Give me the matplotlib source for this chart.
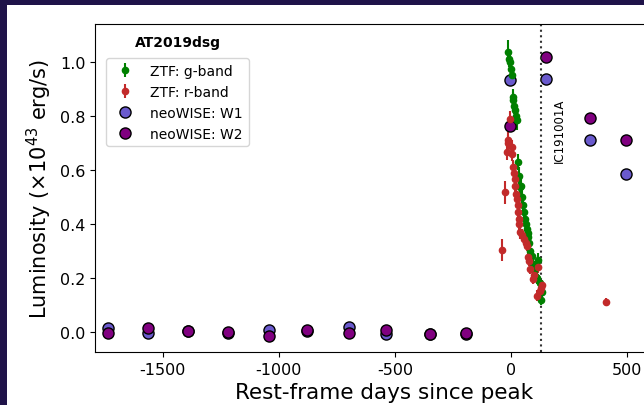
import matplotlib
matplotlib.use("Agg")
import matplotlib.pyplot as plt
from matplotlib.patches import Rectangle

plt.rcParams['axes.unicode_minus'] = False

# ZTF g-band: rest-frame days since peak, luminosity (1e43 erg/s), 1-sigma error
g_days = [-12, -8, -4, -1, 3, 7, 10, 14, 18, 23,
          27, 31, 36, 39, 42, 46, 52, 57, 60, 64,
          68, 72, 75, 79, 82, 88, 93, 98, 103, 108,
          113, 118, 123, 128, 132]
g_lum = [1.036, 1.01, 1.0, 0.974, 0.95, 0.87, 0.857, 0.836, 0.82, 0.80,
         0.783, 0.628, 0.579, 0.536, 0.542, 0.499, 0.47, 0.445, 0.419, 0.40,
         0.381, 0.365, 0.35, 0.33, 0.301, 0.28, 0.25, 0.23, 0.209, 0.205,
         0.199, 0.268, 0.18, 0.12, 0.147]
g_err = [0.045, 0.03, 0.03, 0.03, 0.03, 0.03, 0.03, 0.03, 0.03, 0.03,
         0.035, 0.03, 0.03, 0.03, 0.03, 0.025, 0.025, 0.025, 0.025, 0.025,
         0.025, 0.025, 0.025, 0.025, 0.025, 0.02, 0.02, 0.02, 0.02, 0.02,
         0.02, 0.025, 0.02, 0.02, 0.02]

# ZTF r-band
r_days = [-37, -26, -19, -14, -12, -4, 3, 6, 10, 13,
          17, 19, 22, 27, 29, 31, 33, 36, 39, 47,
          57, 63, 68, 75, 79, 82, 93, 100, 113, 118,
          124, 128, 132, 408]
r_lum = [0.304, 0.517, 0.665, 0.70, 0.709, 0.789, 0.659, 0.684, 0.61, 0.59,
         0.567, 0.542, 0.511, 0.493, 0.47, 0.443, 0.40, 0.42, 0.369, 0.36,
         0.344, 0.33, 0.32, 0.277, 0.264, 0.233, 0.196, 0.21, 0.134, 0.24,
         0.15, 0.162, 0.174, 0.112]
r_err = [0.04, 0.043, 0.03, 0.03, 0.03, 0.03, 0.025, 0.025, 0.025, 0.025,
         0.025, 0.025, 0.025, 0.025, 0.025, 0.025, 0.025, 0.025, 0.025, 0.02,
         0.02, 0.02, 0.02, 0.02, 0.02, 0.02, 0.02, 0.02, 0.02, 0.02,
         0.02, 0.02, 0.02, 0.015]

# neoWISE epochs (W1 and W2 share the same visits)
wise_days = [-1736, -1563, -1391, -1219, -1042, -879, -698, -538, -349, -194,
             -3, 149, 340, 494]
w1_lum = [0.015, -0.004, 0.003, -0.002, 0.008, 0.002, 0.02, -0.008, -0.006, -0.009,
          0.933, 0.937, 0.712, 0.583]
w2_lum = [-0.002, 0.014, 0.004, 0.0, -0.014, 0.006, -0.002, 0.006, -0.006, -0.004,
          0.762, 1.017, 0.793, 0.712]

# neutrino arrival time
nu_day = 129
nu_name = 'IC191001A'

fig = plt.figure(figsize=(6.44, 4.06), dpi=100, facecolor='#1f1349')
fig.patches.append(Rectangle((7 / 644, 0), 1, 400 / 406, transform=fig.transFigure,
                             facecolor='white', edgecolor='none', zorder=-1))

ax = fig.add_axes([95 / 644, 53 / 406, 578.6 / 644, 328 / 406])

ax.errorbar(g_days, g_lum, yerr=g_err, fmt='o', color='green', ms=4.5,
            elinewidth=1.5, capsize=0, label='ZTF: g-band')
ax.errorbar(r_days, r_lum, yerr=r_err, fmt='o', color='#c22a2a', ms=4.5,
            elinewidth=1.5, capsize=0, label='ZTF: r-band')
ax.plot(wise_days, w1_lum, 'o', ls='none', ms=8, mfc='slateblue', mec='k', mew=1,
        label='neoWISE: W1')
ax.plot(wise_days, w2_lum, 'o', ls='none', ms=8, mfc='purple', mec='k', mew=1,
        label='neoWISE: W2')

ax.axvline(nu_day, color='#333333', ls=':', lw=1.5)
ax.text(nu_day + 50, 0.75, nu_name, rotation=90, ha='left', va='center', fontsize=8.5)

ax.set_xticks(range(-1500, 1001, 500))
ax.set_yticks([0.0, 0.2, 0.4, 0.6, 0.8, 1.0])
ax.set_xlim(-1792, 700)
ax.set_ylim(-0.074, 1.14)
ax.tick_params(labelsize=11.5)
ax.set_xlabel('Rest-frame days since peak', fontsize=15.5)
ax.set_ylabel(r'Luminosity ($\times10^{43}$ erg/s)', fontsize=15)

# keep the optical bands first in the legend
handles, labels = ax.get_legend_handles_labels()
order = [labels.index(l) for l in ['ZTF: g-band', 'ZTF: r-band', 'neoWISE: W1', 'neoWISE: W2']]
ax.legend([handles[i] for i in order], [labels[i] for i in order],
          loc='upper left', bbox_to_anchor=(0.019, 0.896), borderaxespad=0, fontsize=10)
ax.text(0.1434, 0.945, 'AT2019dsg', transform=ax.transAxes, ha='center', va='center',
        fontsize=10, fontweight='bold')

fig.savefig('out.png', dpi=100, facecolor=fig.get_facecolor())
